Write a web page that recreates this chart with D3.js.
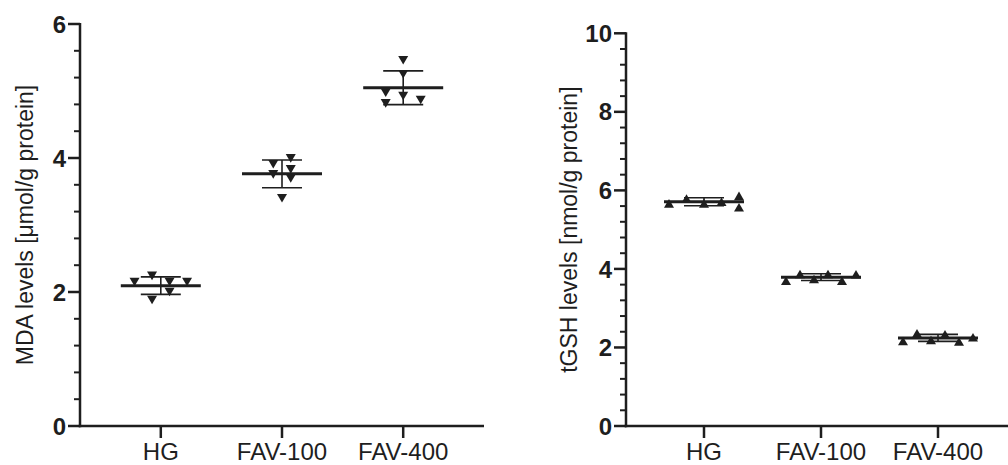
<!DOCTYPE html>
<html>
<head>
<meta charset="utf-8">
<script src="https://cdn.jsdelivr.net/npm/d3@7"></script>
<style>
  body { margin: 0; background: #fff; }
  svg { display: block; font-family: "Liberation Sans", Arial, sans-serif; }
</style>
</head>
<body>
<script>

// groups on the x axis
var groups = ["HG", "FAV-100", "FAV-400"];

// MDA levels [umol/g protein], six animals per group
var mdaHG     = [2.15, 2.24, 2.15, 2.15, 1.88, 2.0];
var mdaFav100 = [3.906, 3.995, 3.83, 3.756, 3.695, 3.40];
var mdaFav400 = [5.46, 5.25, 4.975, 4.925, 4.866, 4.816];

// tGSH levels [nmol/g protein]
var gshHG     = [5.67, 5.79, 5.67, 5.71, 5.86, 5.57];
var gshFav100 = [3.70, 3.87, 3.743, 3.87, 3.70, 3.863];
var gshFav400 = [2.165, 2.36, 2.19, 2.335, 2.15, 2.259];

var mdaTicks = [0, 2, 4, 6];
var gshTicks = [0, 2, 4, 6, 8, 10];

var width = 1008;
var height = 465;
var ink = "#1e1e1e";

var svg = d3.select("body")
            .append("svg")
            .attr("width", width)
            .attr("height", height);

// spread the points of one group sideways so they don't sit on each other
// (points that overlap in y go into neighbouring columns, columns get centred)
function swarm(ys) {
    var near = 8.7, step = 17.5, maxSpan = 70;
    var order = ys.map(function(y, i) { return i; })
                  .sort(function(a, b) { return ys[a] - ys[b]; });
    var comps = [], cur = [order[0]];
    for (var k = 1; k < order.length; k++) {
        if (ys[order[k]] - ys[order[k - 1]] < near) cur.push(order[k]);
        else { comps.push(cur); cur = [order[k]]; }
    }
    comps.push(cur);

    var off = [];
    comps.forEach(function(c) {
        c.sort(function(a, b) { return a - b; });
        var cols = [], colOf = {};
        c.forEach(function(i) {
            var k = 0;
            while (cols[k] && cols[k].some(function(j) { return Math.abs(ys[j] - ys[i]) < near; })) k++;
            (cols[k] = cols[k] || []).push(i);
            colOf[i] = k;
        });
        var n = cols.length;
        var s = n > 1 ? Math.min(step, maxSpan / (n - 1)) : 0;
        c.forEach(function(i) { off[i] = (colOf[i] - (n - 1) / 2) * s; });
    });
    return off;
}

function drawChart(opt) {
    var g = svg.append("g");

    var x = d3.scalePoint()
              .domain(groups)
              .range([opt.left, opt.right])
              .padding(2 / 3);

    var y = d3.scaleLinear()
              .domain([0, d3.max(opt.ticks)])
              .range([opt.bottom, opt.top]);

    // minor ticks every 0.4
    var minor = d3.range(0, d3.max(opt.ticks) + 0.001, 0.4)
                  .filter(function(v) { return Math.abs(v / 2 - Math.round(v / 2)) > 0.01; });

    g.selectAll(".minor")
     .data(minor)
     .enter()
     .append("line")
     .attr("x1", opt.left - 6)
     .attr("x2", opt.left)
     .attr("y1", function(d) { return y(d); })
     .attr("y2", function(d) { return y(d); })
     .style("stroke", ink)
     .style("stroke-width", 2);

    g.selectAll(".major")
     .data(opt.ticks)
     .enter()
     .append("line")
     .attr("x1", opt.left - 12)
     .attr("x2", opt.left)
     .attr("y1", function(d) { return y(d); })
     .attr("y2", function(d) { return y(d); })
     .style("stroke", ink)
     .style("stroke-width", 2.5);

    g.selectAll(".ylab")
     .data(opt.ticks)
     .enter()
     .append("text")
     .attr("x", opt.left - 14)
     .attr("y", function(d) { return y(d); })
     .attr("dy", "0.36em")
     .attr("text-anchor", "end")
     .style("font-size", "24px")
     .style("font-weight", "bold")
     .style("fill", ink)
     .text(function(d) { return d; });

    // axis lines
    g.append("line")
     .attr("x1", opt.left).attr("x2", opt.left)
     .attr("y1", y(d3.max(opt.ticks)) - 1).attr("y2", opt.bottom + 1.25)
     .style("stroke", ink).style("stroke-width", 2.5);

    g.append("line")
     .attr("x1", opt.left - 1.25).attr("x2", opt.right)
     .attr("y1", opt.bottom).attr("y2", opt.bottom)
     .style("stroke", ink).style("stroke-width", 2.5);

    g.selectAll(".xtick")
     .data(groups)
     .enter()
     .append("line")
     .attr("x1", function(d) { return x(d); })
     .attr("x2", function(d) { return x(d); })
     .attr("y1", opt.bottom)
     .attr("y2", opt.bottom + 12)
     .style("stroke", ink)
     .style("stroke-width", 2.5);

    g.selectAll(".xlab")
     .data(groups)
     .enter()
     .append("text")
     .attr("x", function(d) { return x(d); })
     .attr("y", 460)
     .attr("text-anchor", "middle")
     .style("font-size", "24px")
     .style("fill", ink)
     .text(function(d) { return d; });

    // y title
    g.append("text")
     .attr("transform", "translate(" + opt.titleX + "," + ((opt.top + opt.bottom) / 2) + ") rotate(-90)")
     .attr("text-anchor", "middle")
     .style("font-size", "23px")
     .style("fill", ink)
     .text(opt.title);

    // one group = points + mean line + SD bar
    opt.series.forEach(function(vals, gi) {
        var cx = x(groups[gi]);
        var ys = vals.map(function(v) { return y(v); });
        var off = swarm(ys);
        var m = d3.mean(vals), sd = d3.deviation(vals);

        g.append("line")
         .attr("x1", cx).attr("x2", cx)
         .attr("y1", y(m + sd)).attr("y2", y(m - sd))
         .style("stroke", ink).style("stroke-width", 1.6);

        [m + sd, m - sd].forEach(function(v) {
            g.append("line")
             .attr("x1", cx - 20).attr("x2", cx + 20)
             .attr("y1", y(v)).attr("y2", y(v))
             .style("stroke", ink).style("stroke-width", 1.6);
        });

        g.append("line")
         .attr("x1", cx - 40).attr("x2", cx + 40)
         .attr("y1", y(m)).attr("y2", y(m))
         .style("stroke", ink).style("stroke-width", 3);

        g.selectAll(".pt" + gi)
         .data(vals)
         .enter()
         .append("path")
         .attr("transform", function(d, i) { return "translate(" + (cx + off[i]) + "," + ys[i] + ")"; })
         .attr("d", opt.down ? "M-5,-4.3L5,-4.3L0,4.3Z" : "M-5,4.3L5,4.3L0,-4.3Z")
         .style("fill", ink);
    });
}

drawChart({
    left: 80, right: 484, top: 24, bottom: 426,
    ticks: mdaTicks,
    series: [mdaHG, mdaFav100, mdaFav400],
    down: true,
    title: "MDA levels [μmol/g protein]",
    titleX: 33
});

drawChart({
    left: 626, right: 1016, top: 33.3, bottom: 426,
    ticks: gshTicks,
    series: [gshHG, gshFav100, gshFav400],
    down: false,
    title: "tGSH levels [nmol/g protein]",
    titleX: 577
});

</script>
</body>
</html>
